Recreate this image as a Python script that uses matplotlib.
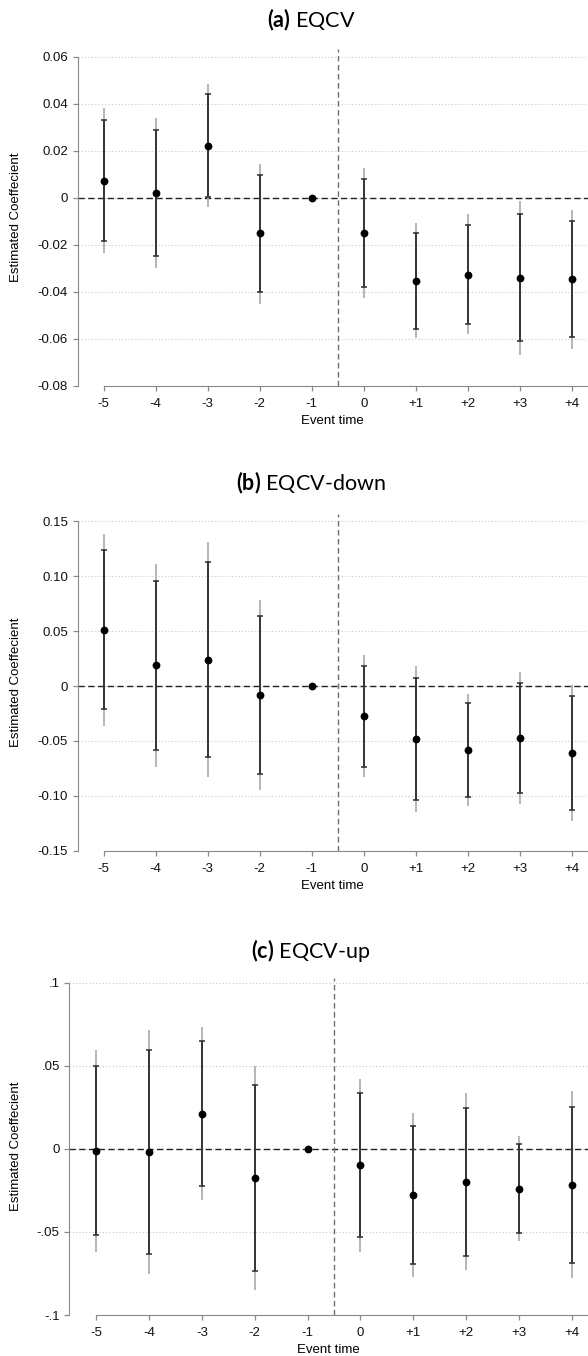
import matplotlib
matplotlib.use("Agg")
import matplotlib.pyplot as plt
import numpy as np

plt.rcParams['font.family'] = ['Liberation Sans', 'DejaVu Sans']
plt.rcParams['mathtext.fontset'] = 'custom'
plt.rcParams['mathtext.rm'] = 'Lato'
plt.rcParams['mathtext.bf'] = 'Lato:bold'

# event time
event_time = [-5, -4, -3, -2, -1, 0, 1, 2, 3, 4]
event_labels = ['-5', '-4', '-3', '-2', '-1', '0', '+1', '+2', '+3', '+4']

# (a) EQCV
a_coef = [0.0071, 0.0019, 0.0222, -0.0152, 0.0, -0.0151, -0.0353, -0.0327, -0.0342, -0.0347]
a_lo95 = [-0.0184, -0.0248, 0.0003, -0.0401, 0.0, -0.0381, -0.0557, -0.0538, -0.0611, -0.0594]
a_hi95 = [0.0329, 0.0288, 0.0440, 0.0095, 0.0, 0.0081, -0.0149, -0.0115, -0.0070, -0.0100]
a_lo99 = [-0.0235, -0.0299, -0.0040, -0.0451, 0.0, -0.0427, -0.0598, -0.0581, -0.0668, -0.0642]
a_hi99 = [0.0380, 0.0340, 0.0484, 0.0145, 0.0, 0.0127, -0.0108, -0.0071, -0.0014, -0.0053]
a_yticks = [0.06, 0.04, 0.02, 0, -0.02, -0.04, -0.06, -0.08]
a_yticklabels = ['0.06', '0.04', '0.02', '0', '-0.02', '-0.04', '-0.06', '-0.08']

# (b) EQCV-down
b_coef = [0.0510, 0.0188, 0.0240, -0.0082, 0.0, -0.0276, -0.0483, -0.0583, -0.0471, -0.0607]
b_lo95 = [-0.0213, -0.0580, -0.0650, -0.0799, 0.0, -0.0738, -0.1036, -0.1011, -0.0978, -0.1127]
b_hi95 = [0.1239, 0.0954, 0.1133, 0.0641, 0.0, 0.0185, 0.0073, -0.0155, 0.0030, -0.0088]
b_lo99 = [-0.0361, -0.0735, -0.0832, -0.0944, 0.0, -0.0832, -0.1145, -0.1096, -0.1075, -0.1230]
b_hi99 = [0.1382, 0.1108, 0.1309, 0.0780, 0.0, 0.0279, 0.0179, -0.0070, 0.0125, 0.0009]
b_yticks = [0.15, 0.10, 0.05, 0, -0.05, -0.10, -0.15]
b_yticklabels = ['0.15', '0.10', '0.05', '0', '-0.05', '-0.10', '-0.15']

# (c) EQCV-up
c_coef = [-0.0012, -0.0018, 0.0211, -0.0177, 0.0, -0.0100, -0.0278, -0.0199, -0.0240, -0.0217]
c_lo95 = [-0.0520, -0.0630, -0.0222, -0.0738, 0.0, -0.0533, -0.0693, -0.0646, -0.0504, -0.0687]
c_hi95 = [0.0496, 0.0593, 0.0648, 0.0386, 0.0, 0.0335, 0.0136, 0.0248, 0.0028, 0.0254]
c_lo99 = [-0.0622, -0.0754, -0.0309, -0.0850, 0.0, -0.0618, -0.0774, -0.0732, -0.0557, -0.0780]
c_hi99 = [0.0593, 0.0715, 0.0734, 0.0496, 0.0, 0.0423, 0.0215, 0.0335, 0.0079, 0.0348]
c_yticks = [0.1, 0.05, 0, -0.05, -0.1]
c_yticklabels = ['.1', '.05', '0', '-.05', '-.1']

titles = [r'$\mathbf{(a)}$ EQCV', r'$\mathbf{(b)}$ EQCV-down', r'$\mathbf{(c)}$ EQCV-up']

W, H = 588, 1356
fig = plt.figure(figsize=(W / 100, H / 100), dpi=100)


def px_axes(left, top, bottom):
    return fig.add_axes([left / W, 1 - bottom / H, 1 - left / W, (bottom - top) / H])


def draw_panel(ax, coef, lo95, hi95, lo99, hi99, yticks, yticklabels, ytop, xleft):
    x = np.array(event_time)
    coef = np.array(coef)
    # wide interval in light gray, narrow one dark with caps
    ax.vlines(x, lo99, hi99, color='#b0b0b0', lw=1.3, zorder=2)
    ax.errorbar(x, coef, yerr=[coef - np.array(lo95), np.array(hi95) - coef],
                fmt='none', ecolor='#2b2b2b', elinewidth=1.3, capsize=2.2,
                capthick=1.1, zorder=3)
    ax.plot(x, coef, 'o', color='black', markersize=4.6, zorder=4)
    ax.axhline(0, color='#222222', lw=1.0, ls=(0, (4.5, 2.5)), zorder=1)
    ax.axvline(-0.5, color='#707070', lw=1.0, ls=(0, (4, 2.5)), zorder=1)

    ymin, ymax = min(yticks), max(yticks)
    ax.set_ylim(ymin, ytop)
    ax.set_xlim(xleft, 4.31)
    ax.set_yticks(yticks)
    ax.set_yticklabels(yticklabels)
    ax.set_xticks(event_time)
    ax.set_xticklabels(event_labels)
    ax.yaxis.grid(True, linestyle=(0, (1, 2)), color='#c8c8c8', lw=0.8)
    ax.set_axisbelow(True)

    for s in ['top', 'right']:
        ax.spines[s].set_visible(False)
    ax.spines['left'].set_color('#8a8a8a')
    ax.spines['bottom'].set_color('#8a8a8a')
    ax.spines['left'].set_bounds(ymin, ymax)
    ax.spines['bottom'].set_bounds(-5, 4.31)
    ax.tick_params(axis='both', colors='#8a8a8a', labelcolor='#111111',
                   labelsize=9.5, length=3.5, width=0.9)
    ax.tick_params(axis='x', pad=5)
    ax.set_xlabel('Event time', fontsize=9.5, labelpad=4)
    ax.set_ylabel('Estimated Coeffecient', fontsize=9.5, labelpad=11)


ax_a = px_axes(77.6, 49, 385.7)
draw_panel(ax_a, a_coef, a_lo95, a_hi95, a_lo99, a_hi99, a_yticks, a_yticklabels, 0.0633, -5.5)
ax_b = px_axes(77.6, 514, 850.7)
draw_panel(ax_b, b_coef, b_lo95, b_hi95, b_lo99, b_hi99, b_yticks, b_yticklabels, 0.1567, -5.5)
ax_c = px_axes(69.4, 978.3, 1315)
draw_panel(ax_c, c_coef, c_lo95, c_hi95, c_lo99, c_hi99, c_yticks, c_yticklabels, 0.1026, -5.51)

for t, ypx in zip(titles, [20, 483, 950]):
    fig.text(311 / W, 1 - ypx / H, t, ha='center', va='center', fontsize=15.5,
             family='Lato')

fig.savefig('out.png', dpi=100)
